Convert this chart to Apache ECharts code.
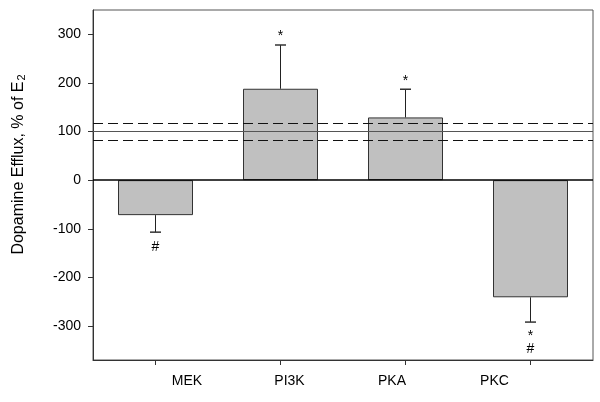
<!DOCTYPE html>
<html><head><meta charset="utf-8">
<script src="https://cdn.jsdelivr.net/npm/echarts@6/dist/echarts.min.js"></script>
<style>html,body{margin:0;padding:0;background:#fff}#c{width:600px;height:402px}</style>
</head><body><div id="c"></div>
<script>
const categories = ['MEK', 'PI3K', 'PKA', 'PKC'];
const values = [-72, 188, 129, -241];
const errors = [35, 90, 58, 51];
const annotations = ['#', '*', '*', '*\n#'];
const yTicks = [-300, -200, -100, 0, 100, 200, 300];
const zeroLine = 0;
const refLine = 100;
const refBand = [83, 117];
const yMin = -370, yMax = 350;

const font = 'Arial, "Liberation Sans", sans-serif';
const chart = echarts.init(document.getElementById('c'), null, {renderer: 'canvas'});

const option = {
  animation: false,
  backgroundColor: '#fff',
  grid: [
    {left: 93, right: 7, top: 10, bottom: 42, show: true, borderColor: '#555', borderWidth: 1},
    {left: 187, right: 105.5, top: 10, bottom: 42, show: false}
  ],
  xAxis: [
    {type: 'category', data: categories, gridIndex: 0, boundaryGap: true,
     axisLine: {onZero: false, lineStyle: {color: '#333', width: 1}},
     axisTick: {show: true, alignWithLabel: true, length: 5, lineStyle: {color: '#333'}},
     axisLabel: {show: false}, splitLine: {show: false}},
    {type: 'category', data: categories, gridIndex: 1, boundaryGap: false,
     axisLine: {show: false}, axisTick: {show: false}, splitLine: {show: false},
     axisLabel: {fontSize: 14, color: '#000', fontFamily: font, margin: 14}}
  ],
  yAxis: [
    {type: 'value', min: yMin, max: yMax, gridIndex: 0,
     axisLine: {show: true, lineStyle: {color: '#333', width: 1}},
     axisTick: {show: true, length: 5, customValues: yTicks, lineStyle: {color: '#333'}},
     axisLabel: {fontSize: 14, color: '#000', fontFamily: font, margin: 12, customValues: yTicks},
     splitLine: {show: false},
     name: 'Dopamine Efflux, % of E{sub|2}',
     nameLocation: 'middle', nameGap: 66,
     nameTextStyle: {fontSize: 16, color: '#000', fontFamily: font, padding: [0, 0, 0, 41],
       rich: {sub: {fontSize: 11, fontFamily: font, color: '#000', verticalAlign: 'bottom', padding: [6, 0, 0, 1]}}}
    },
    {type: 'value', gridIndex: 1, show: false}
  ],
  series: [
    {type: 'bar', xAxisIndex: 0, yAxisIndex: 0, data: values, barWidth: '60%',
     itemStyle: {color: '#c0c0c0', borderColor: '#333', borderWidth: 1},
     markLine: {silent: true, symbol: ['none', 'none'], label: {show: false}, animation: false,
       data: [
         {yAxis: zeroLine, lineStyle: {color: '#000', width: 1.5, type: 'solid'}},
         {yAxis: refLine, lineStyle: {color: '#555', width: 1.2, type: 'solid'}},
         {yAxis: refBand[0], lineStyle: {color: '#111', width: 1.2, type: [10, 5]}},
         {yAxis: refBand[1], lineStyle: {color: '#111', width: 1.2, type: [10, 5]}}
       ]}
    },
    {type: 'custom', xAxisIndex: 0, yAxisIndex: 0,
     data: values.map((v, i) => [i, v, errors[i]]),
     encode: {x: 0, y: 1},
     z: 5,
     renderItem: function (params, api) {
       const i = api.value(0), v = api.value(1), e = api.value(2);
       const sign = v >= 0 ? 1 : -1;
       const p0 = api.coord([i, v]);
       const p1 = api.coord([i, v + sign * e]);
       const hw = 5.5;
       const txt = annotations[params.dataIndex];
       return {type: 'group', children: [
         {type: 'line', shape: {x1: p0[0], y1: p0[1], x2: p1[0], y2: p1[1]}, style: {stroke: '#222', lineWidth: 1}},
         {type: 'line', shape: {x1: p1[0] - hw, y1: p1[1], x2: p1[0] + hw, y2: p1[1]}, style: {stroke: '#333', lineWidth: 1.5}},
         {type: 'text', x: p1[0], y: sign > 0 ? p1[1] - 2 : p1[1] + 8,
          style: {text: txt, fontSize: 14, fontFamily: font, fill: '#000', align: 'center',
                  verticalAlign: sign > 0 ? 'bottom' : 'top', lineHeight: 13}}
       ]};
     }
    }
  ]
};
chart.setOption(option);
</script>
</body></html>
